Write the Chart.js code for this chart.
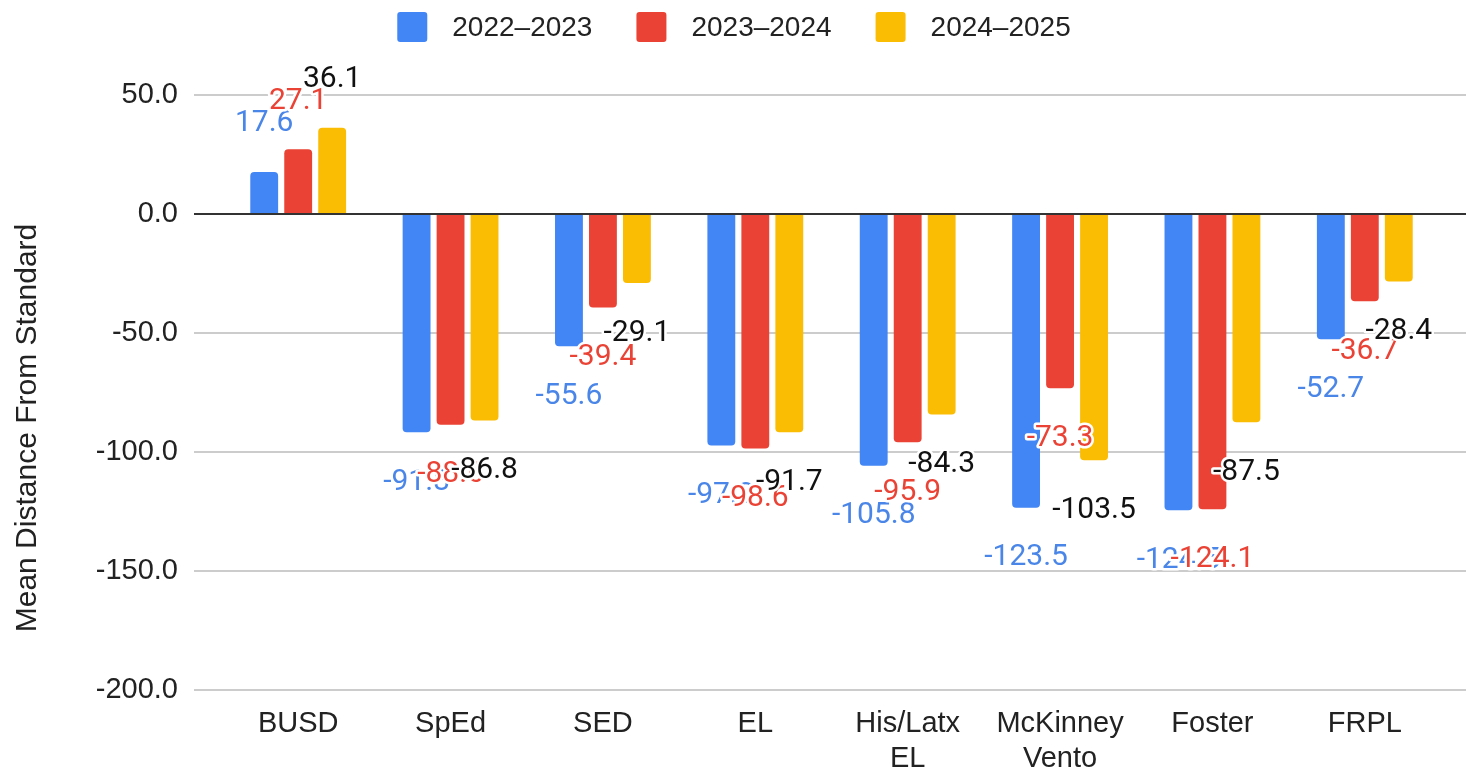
<!DOCTYPE html>
<html>
<head>
<meta charset="utf-8">
<script src="https://cdn.jsdelivr.net/npm/chart.js@4.4.1/dist/chart.umd.min.js"></script>
<style>
  html, body { margin: 0; background: #fff; }
  #wrap { width: 1466px; height: 773px; }
</style>
</head>
<body>
<div id="wrap"><canvas id="distChart"></canvas></div>
<script>
// groups along the x axis
const categories = ["BUSD", "SpEd", "SED", "EL", ["His/Latx", "EL"], ["McKinney", "Vento"], "Foster", "FRPL"];
const seriesNames = ["2022–2023", "2023–2024", "2024–2025"];

// mean distance from standard, per school year
const values2022 = [17.6, -91.8, -55.6, -97.3, -105.8, -123.5, -124.5, -52.7];
const values2023 = [27.1, -88.6, -39.4, -98.6, -95.9, -73.3, -124.1, -36.7];
const values2024 = [36.1, -86.8, -29.1, -91.7, -84.3, -103.5, -87.5, -28.4];

const yTicks = [50, 0, -50, -100, -150, -200];
const yTitle = "Mean Distance From Standard";

const barColors = ["#4285F4", "#EA4335", "#FBBC04"];
const labelColors = ["#4a86e8", "#EA4335", "#111111"];
const AXIS_FONT = "'Liberation Sans', Arial, sans-serif";
const LABEL_FONT = "Roboto, 'Liberation Sans', Arial, sans-serif";

// Horizontal gridlines run wider than the category axis (like Google Sheets).
const gridLines = {
  id: "gridLines",
  beforeDatasetsDraw(chart) {
    const { ctx, scales: { y } } = chart;
    ctx.save();
    ctx.strokeStyle = "#cccccc";
    ctx.lineWidth = 2;
    yTicks.forEach((v) => {
      if (v === 0) return;
      const py = Math.round(y.getPixelForValue(v));
      ctx.beginPath();
      ctx.moveTo(194, py);
      ctx.lineTo(chart.width, py);
      ctx.stroke();
    });
    ctx.restore();
  },
  afterDatasetsDraw(chart) {
    // zero baseline sits on top of the bars
    const { ctx, scales: { y } } = chart;
    const py = Math.round(y.getPixelForValue(0));
    ctx.save();
    ctx.strokeStyle = "#333333";
    ctx.lineWidth = 2;
    ctx.beginPath();
    ctx.moveTo(194, py);
    ctx.lineTo(chart.width, py);
    ctx.stroke();
    ctx.restore();
  }
};

// Value labels: above positive bars, below negative ones, with a white halo.
const valueLabels = {
  id: "valueLabels",
  afterDatasetsDraw(chart) {
    const { ctx } = chart;
    ctx.save();
    ctx.font = "30px " + LABEL_FONT;
    ctx.textAlign = "center";
    ctx.textBaseline = "middle";
    ctx.lineJoin = "round";
    chart.data.datasets.forEach((ds, i) => {
      const meta = chart.getDatasetMeta(i);
      meta.data.forEach((bar, j) => {
        const v = ds.data[j];
        const py = v >= 0 ? bar.y - 48 : bar.y + 50;
        const txt = v.toFixed(1);
        ctx.strokeStyle = "#ffffff";
        ctx.lineWidth = 5;
        ctx.strokeText(txt, bar.x, py);
        ctx.fillStyle = labelColors[i];
        ctx.fillText(txt, bar.x, py);
      });
    });
    ctx.restore();
  }
};

// Legend row and rotated axis title, drawn by hand so their spacing matches.
const legendAndTitle = {
  id: "legendAndTitle",
  afterDraw(chart) {
    const { ctx } = chart;
    ctx.save();
    ctx.font = "28px " + AXIS_FONT;
    ctx.textBaseline = "middle";
    const box = 30, gap = 25, spacing = 44;
    const items = chart.data.datasets.map((ds) => ({
      label: ds.label,
      color: ds.backgroundColor,
      w: box + gap + ctx.measureText(ds.label).width
    }));
    const total = items.reduce((s, it) => s + it.w, 0) + spacing * (items.length - 1);
    let x = 734 - total / 2;
    const cy = 27;
    items.forEach((it) => {
      ctx.fillStyle = it.color;
      ctx.beginPath();
      ctx.roundRect(x, cy - box / 2, box, box, 3);
      ctx.fill();
      ctx.fillStyle = "#222222";
      ctx.textAlign = "left";
      ctx.fillText(it.label, x + box + gap, cy + 1);
      x += it.w + spacing;
    });

    ctx.font = "30px " + AXIS_FONT;
    ctx.translate(28, 428);
    ctx.rotate(-Math.PI / 2);
    ctx.textAlign = "center";
    ctx.fillText(yTitle, 0, 0);
    ctx.restore();
  }
};

new Chart(document.getElementById("distChart").getContext("2d"), {
  type: "bar",
  data: {
    labels: categories,
    datasets: [values2022, values2023, values2024].map((vals, i) => ({
      label: seriesNames[i],
      data: vals,
      backgroundColor: barColors[i],
      borderRadius: 4,
      borderSkipped: "start",
      categoryPercentage: 0.669,
      barPercentage: 0.82
    }))
  },
  options: {
    responsive: true,
    maintainAspectRatio: false,
    animation: false,
    layout: { padding: { top: 60, right: 25, left: 0, bottom: 0 } },
    plugins: {
      legend: { display: false },
      tooltip: { enabled: false }
    },
    scales: {
      x: {
        grid: { display: false, drawTicks: false },
        border: { display: false },
        ticks: {
          color: "#222222",
          font: { family: AXIS_FONT, size: 29, lineHeight: 1.2 },
          padding: 17,
          maxRotation: 0,
          autoSkip: false
        },
        afterFit(scale) { scale.height = 83; }
      },
      y: {
        min: -200,
        max: 64,
        grid: { display: false, drawTicks: false },
        border: { display: false },
        afterBuildTicks(scale) {
          scale.ticks = yTicks.map((v) => ({ value: v }));
        },
        ticks: {
          color: "#222222",
          font: { family: AXIS_FONT, size: 29 },
          padding: 44,
          callback: (v) => Number(v).toFixed(1)
        },
        afterFit(scale) { scale.width = 222; }
      }
    }
  },
  plugins: [gridLines, valueLabels, legendAndTitle]
});
</script>
</body>
</html>
